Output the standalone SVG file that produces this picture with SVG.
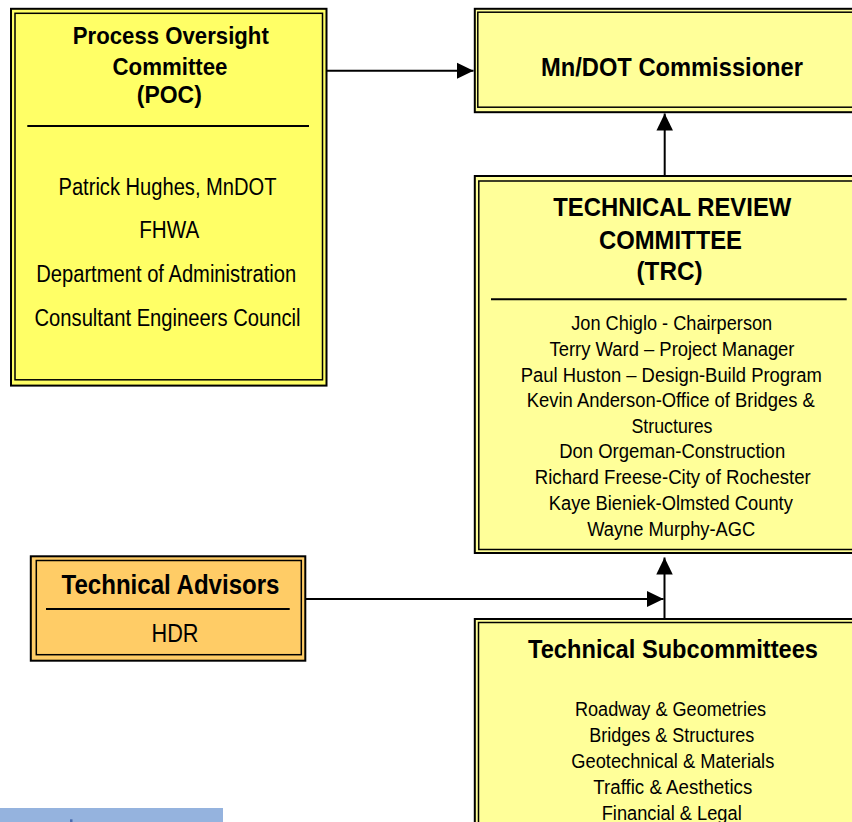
<svg xmlns="http://www.w3.org/2000/svg" width="852" height="822" viewBox="0 0 852 822">
  <style>
    .outer { stroke: #000; stroke-width: 2; }
    .inner { fill: none; stroke: #000; stroke-width: 1.5; }
    .pale { fill: #FFFF99; }
    .bright { fill: #FFFF66; }
    .amber { fill: #FFCC66; }
    .rule { stroke: #000; stroke-width: 2; }
    text { font-family: "Liberation Sans", Arial, sans-serif; fill: #000; text-anchor: middle; }
    .title { font-weight: bold; }
    .conn { stroke: #000; stroke-width: 2; fill: none; }
  </style>
  <defs>
    <marker id="arrow" markerUnits="userSpaceOnUse" markerWidth="18" markerHeight="17" refX="17" refY="8.25" orient="auto">
      <path d="M0,0 L17,8.25 L0,16.5 Z" fill="#000"/>
    </marker>
  </defs>

  <rect width="852" height="822" fill="#fff"/>

  <!-- Process Oversight Committee -->
  <g id="poc">
    <rect class="outer bright" x="11" y="8.8" width="315.5" height="376.8"/>
    <rect class="inner" x="15" y="13.3" width="307.5" height="366.5"/>
    <text class="title" x="170.8" y="44.3" font-size="24" textLength="196" lengthAdjust="spacingAndGlyphs">Process Oversight</text>
    <text class="title" x="170" y="75" font-size="24" textLength="115" lengthAdjust="spacingAndGlyphs">Committee</text>
    <text class="title" x="169.3" y="102.5" font-size="24" textLength="65" lengthAdjust="spacingAndGlyphs">(POC)</text>
    <line class="rule" x1="27.3" y1="126" x2="309" y2="126"/>
    <text x="167.5" y="195" font-size="23" textLength="218" lengthAdjust="spacingAndGlyphs">Patrick Hughes, MnDOT</text>
    <text x="169.2" y="238.3" font-size="23" textLength="60" lengthAdjust="spacingAndGlyphs">FHWA</text>
    <text x="166.2" y="281.7" font-size="23" textLength="260" lengthAdjust="spacingAndGlyphs">Department of Administration</text>
    <text x="167.5" y="326" font-size="23" textLength="266" lengthAdjust="spacingAndGlyphs">Consultant Engineers Council</text>
  </g>

  <!-- Mn/DOT Commissioner -->
  <g id="commissioner">
    <rect class="outer pale" x="474.8" y="8.8" width="400" height="103.4"/>
    <rect class="inner" x="477.8" y="12.2" width="400" height="95"/>
    <text class="title" x="672" y="76" font-size="26" textLength="262" lengthAdjust="spacingAndGlyphs">Mn/DOT Commissioner</text>
  </g>

  <!-- Technical Review Committee -->
  <g id="trc">
    <rect class="outer pale" x="474.8" y="176" width="400" height="377"/>
    <rect class="inner" x="478.8" y="181" width="400" height="368.5"/>
    <text class="title" x="672.3" y="215.7" font-size="26.5" textLength="238" lengthAdjust="spacingAndGlyphs">TECHNICAL REVIEW</text>
    <text class="title" x="670.5" y="248.7" font-size="26.5" textLength="143" lengthAdjust="spacingAndGlyphs">COMMITTEE</text>
    <text class="title" x="669.5" y="279.5" font-size="26.5" textLength="66" lengthAdjust="spacingAndGlyphs">(TRC)</text>
    <line class="rule" x1="491" y1="299.3" x2="846.7" y2="299.3"/>
    <text x="671.7" y="330" font-size="20" textLength="201" lengthAdjust="spacingAndGlyphs">Jon Chiglo - Chairperson</text>
    <text x="672" y="356" font-size="20" textLength="245" lengthAdjust="spacingAndGlyphs">Terry Ward – Project Manager</text>
    <text x="671.3" y="381.6" font-size="20" textLength="301" lengthAdjust="spacingAndGlyphs">Paul Huston – Design-Build Program</text>
    <text x="670.8" y="407" font-size="20" textLength="288" lengthAdjust="spacingAndGlyphs">Kevin Anderson-Office of Bridges &amp;</text>
    <text x="672" y="432.5" font-size="20" textLength="81" lengthAdjust="spacingAndGlyphs">Structures</text>
    <text x="672.2" y="458.3" font-size="20" textLength="226" lengthAdjust="spacingAndGlyphs">Don Orgeman-Construction</text>
    <text x="672.8" y="484" font-size="20" textLength="276" lengthAdjust="spacingAndGlyphs">Richard Freese-City of Rochester</text>
    <text x="670.8" y="510" font-size="20" textLength="244" lengthAdjust="spacingAndGlyphs">Kaye Bieniek-Olmsted County</text>
    <text x="671.2" y="536" font-size="20" textLength="168" lengthAdjust="spacingAndGlyphs">Wayne Murphy-AGC</text>
  </g>

  <!-- Technical Advisors -->
  <g id="advisors">
    <rect class="outer amber" x="30.8" y="556.3" width="274.5" height="104.4"/>
    <rect class="inner" x="36.3" y="560.5" width="265" height="94.2"/>
    <text class="title" x="170.5" y="594.3" font-size="27" textLength="218" lengthAdjust="spacingAndGlyphs">Technical Advisors</text>
    <line class="rule" x1="46" y1="609" x2="289.7" y2="609"/>
    <text x="175" y="642.3" font-size="26" textLength="47" lengthAdjust="spacingAndGlyphs">HDR</text>
  </g>

  <!-- Technical Subcommittees -->
  <g id="subcommittees">
    <rect class="outer pale" x="474.8" y="619" width="400" height="260"/>
    <rect class="inner" x="478.5" y="622.5" width="400" height="260"/>
    <text class="title" x="673" y="657.7" font-size="26" textLength="290" lengthAdjust="spacingAndGlyphs">Technical Subcommittees</text>
    <text x="670.5" y="716" font-size="20" textLength="191" lengthAdjust="spacingAndGlyphs">Roadway &amp; Geometries</text>
    <text x="671.7" y="741.7" font-size="20" textLength="165" lengthAdjust="spacingAndGlyphs">Bridges &amp; Structures</text>
    <text x="672.8" y="768" font-size="20" textLength="203" lengthAdjust="spacingAndGlyphs">Geotechnical &amp; Materials</text>
    <text x="672.8" y="794" font-size="20" textLength="159" lengthAdjust="spacingAndGlyphs">Traffic &amp; Aesthetics</text>
    <text x="671.7" y="820" font-size="20" textLength="140" lengthAdjust="spacingAndGlyphs">Financial &amp; Legal</text>
  </g>

  <!-- Connectors -->
  <g id="connectors">
    <line class="conn" x1="327" y1="70.7" x2="473.5" y2="70.7" marker-end="url(#arrow)"/>
    <line class="conn" x1="664.7" y1="176" x2="664.7" y2="113.5" marker-end="url(#arrow)"/>
    <line class="conn" x1="664.5" y1="618.5" x2="664.5" y2="557.5" marker-end="url(#arrow)"/>
    <line class="conn" x1="305.7" y1="599" x2="663.5" y2="599" marker-end="url(#arrow)"/>
  </g>

  <!-- Blue strip at the lower left -->
  <rect x="0" y="808" width="223" height="14" fill="#95B3DE"/>
  <rect x="70" y="819.3" width="2.5" height="2.7" fill="#4A6DB0"/>
</svg>
